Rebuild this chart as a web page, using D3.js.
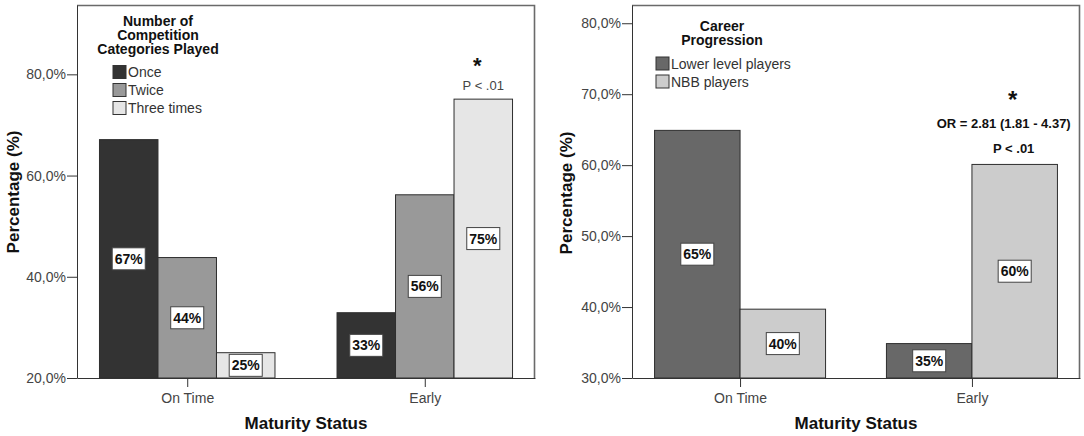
<!DOCTYPE html>
<html><head><meta charset="utf-8">
<script src="https://cdn.jsdelivr.net/npm/d3@7"></script>
<style>
html,body{margin:0;padding:0;background:#fff;}
svg{display:block;font-family:Arial,"Liberation Sans",Helvetica,sans-serif;}
</style></head>
<body><svg id="c" width="1084" height="436"></svg>
<script>
// ---- data ----
const categories = ["On Time", "Early"];
const leftSeries = ["Once", "Twice", "Three times"];
const onceValues = [67.1, 32.9];
const twiceValues = [43.8, 56.2];
const threeTimesValues = [25.0, 75.1];
const leftTicks = [20, 40, 60, 80];
const leftLegendTitle = ["Number of", "Competition", "Categories Played"];

const rightSeries = ["Lower level players", "NBB players"];
const lowerLevelValues = [64.9, 34.85];
const nbbValues = [39.7, 60.1];
const rightTicks = [30, 40, 50, 60, 70, 80];
const rightLegendTitle = ["Career", "Progression"];

const xTitle = "Maturity Status";
const yTitle = "Percentage (%)";

const locale = d3.formatLocale({decimal: ",", thousands: ".", grouping: [3], currency: ["", ""]});
const tickFmt = v => locale.format(".1f")(v) + "%";

const svg = d3.select("#c");

function panel(cfg) {
  const g = svg.append("g");
  const {x0, x1, y0, y1} = cfg;
  const y = d3.scaleLinear().domain(cfg.yDomain).range([y1, y0]);
  const x = d3.scalePoint().domain(categories).range([x0, x1]).padding(cfg.pad);
  const inner = d3.scaleBand().domain(cfg.series).range([-cfg.groupW / 2, cfg.groupW / 2]).padding(0);

  // bars
  const rows = [];
  cfg.series.forEach((s, si) => {
    categories.forEach((c, ci) => rows.push({s, c, v: cfg.values[si][ci], color: cfg.colors[si]}));
  });
  g.selectAll("rect.bar").data(rows).join("rect").attr("class", "bar")
    .attr("x", d => x(d.c) + inner(d.s))
    .attr("width", inner.bandwidth())
    .attr("y", d => y(d.v))
    .attr("height", d => y(cfg.yDomain[0]) - y(d.v))
    .attr("fill", d => d.color).attr("stroke", "#2e2e2e").attr("stroke-width", 1);

  // value labels
  const lab = g.selectAll("g.lab").data(rows).join("g").attr("class", "lab")
    .attr("transform", d => `translate(${x(d.c) + inner(d.s) + inner.bandwidth() / 2},${(y(d.v) + y(cfg.yDomain[0])) / 2})`);
  lab.append("rect").attr("fill", "#fff").attr("stroke", "#444").attr("stroke-width", 1);
  lab.append("text").attr("text-anchor", "middle").attr("dy", "0.36em")
    .attr("font-size", 14).attr("font-weight", "bold").attr("fill", "#111")
    .text(d => Math.round(d.v) + "%");
  lab.each(function () {
    const t = d3.select(this).select("text").node();
    const w = t.getComputedTextLength() + 5;
    d3.select(this).select("rect").attr("x", -w / 2).attr("y", -11).attr("width", w).attr("height", 22);
  });

  // frame (top and right edges)
  g.append("path").attr("class", "frame")
    .attr("d", `M${x0},${y0 + 0.5}H${x1 - 0.5}V${y1}`)
    .attr("fill", "none").attr("stroke", "#6a6a6a").attr("stroke-width", 1.6);

  // y axis
  const ya = g.append("g").attr("transform", `translate(${x0},0)`)
    .call(d3.axisLeft(y).tickValues(cfg.ticks).tickFormat(tickFmt).tickSizeInner(10).tickSizeOuter(0).tickPadding(1));
  ya.select(".domain").attr("stroke", "#333");
  ya.selectAll(".tick line").attr("stroke", "#333");
  ya.selectAll(".tick text").attr("font-size", 14).attr("fill", "#444").attr("font-family", null);

  // x axis
  const xa = g.append("g").attr("transform", `translate(0,${y1})`)
    .call(d3.axisBottom(x).tickSize(9).tickSizeOuter(0).tickPadding(6));
  xa.select(".domain").attr("stroke", "#333");
  xa.selectAll(".tick line").attr("stroke", "#333");
  xa.selectAll(".tick text").attr("font-size", 14).attr("fill", "#444").attr("font-family", null);

  // titles
  g.append("text").attr("x", (x0 + x1) / 2).attr("y", 423).attr("dy", "0.36em").attr("text-anchor", "middle")
    .attr("font-size", 17).attr("font-weight", "bold").attr("fill", "#111").text(xTitle);
  g.append("text").attr("transform", `translate(${cfg.yTitleX},${cfg.yTitleY}) rotate(-90)`)
    .attr("dy", "0.36em").attr("text-anchor", "middle")
    .attr("font-size", 17).attr("font-weight", "bold").attr("fill", "#111").text(yTitle);

  // legend
  cfg.legendTitle.forEach((t, i) => {
    g.append("text").attr("x", cfg.legTitleX).attr("y", cfg.legTitleY + i * 14.3).attr("dy", "0.36em")
      .attr("text-anchor", "middle").attr("font-size", 14).attr("font-weight", "bold").attr("fill", "#111").text(t);
  });
  cfg.series.forEach((s, i) => {
    const yy = cfg.legItemY + i * 18;
    g.append("rect").attr("x", cfg.legX).attr("y", yy - 6.5).attr("width", 13).attr("height", 13)
      .attr("fill", cfg.colors[i]).attr("stroke", "#333").attr("stroke-width", 1);
    g.append("text").attr("x", cfg.legX + 15).attr("y", yy).attr("dy", "0.36em")
      .attr("font-size", 14).attr("fill", "#333").text(s);
  });

  return {g, x, y, inner};
}

const L = panel({
  x0: 77, x1: 535, y0: 5, y1: 378, yDomain: [20, 93.7], pad: 0.464, groupW: 175.5,
  series: leftSeries, values: [onceValues, twiceValues, threeTimesValues],
  colors: ["#333333", "#999999", "#e6e6e6"], ticks: leftTicks,
  yTitleX: 13, yTitleY: 192, legendTitle: leftLegendTitle, legTitleX: 158, legTitleY: 20.5,
  legX: 113, legItemY: 72
});
const R = panel({
  x0: 632, x1: 1080, y0: 5, y1: 378, yDomain: [30, 82.57], pad: 0.466, groupW: 171,
  series: rightSeries, values: [lowerLevelValues, nbbValues],
  colors: ["#686868", "#cccccc"], ticks: rightTicks,
  yTitleX: 566, yTitleY: 193, legendTitle: rightLegendTitle, legTitleX: 722, legTitleY: 26,
  legX: 656, legItemY: 63.5
});

// annotations (anchored to the significant bars)
function barCenter(P, cat, s) { return P.x(cat) + P.inner(s) + P.inner.bandwidth() / 2; }
const lx = barCenter(L, "Early", "Three times");
L.g.append("text").attr("x", lx - 6).attr("y", 72.5).attr("text-anchor", "middle")
  .attr("font-size", 22).attr("font-weight", "bold").attr("fill", "#111").text("*");
L.g.append("text").attr("x", lx).attr("y", 85).attr("dy", "0.36em").attr("text-anchor", "middle")
  .attr("font-size", 13).attr("fill", "#444").text("P < .01");

const rx = barCenter(R, "Early", "NBB players");
R.g.append("text").attr("x", rx - 2).attr("y", 108).attr("text-anchor", "middle")
  .attr("font-size", 24).attr("font-weight", "bold").attr("fill", "#111").text("*");
R.g.append("text").attr("x", rx - 11).attr("y", 123.5).attr("dy", "0.36em").attr("text-anchor", "middle")
  .attr("font-size", 13).attr("font-weight", "bold").attr("fill", "#111").text("OR = 2.81 (1.81 - 4.37)");
R.g.append("text").attr("x", rx - 1).attr("y", 148).attr("dy", "0.36em").attr("text-anchor", "middle")
  .attr("font-size", 13).attr("font-weight", "bold").attr("fill", "#111").text("P < .01");
</script></body></html>
